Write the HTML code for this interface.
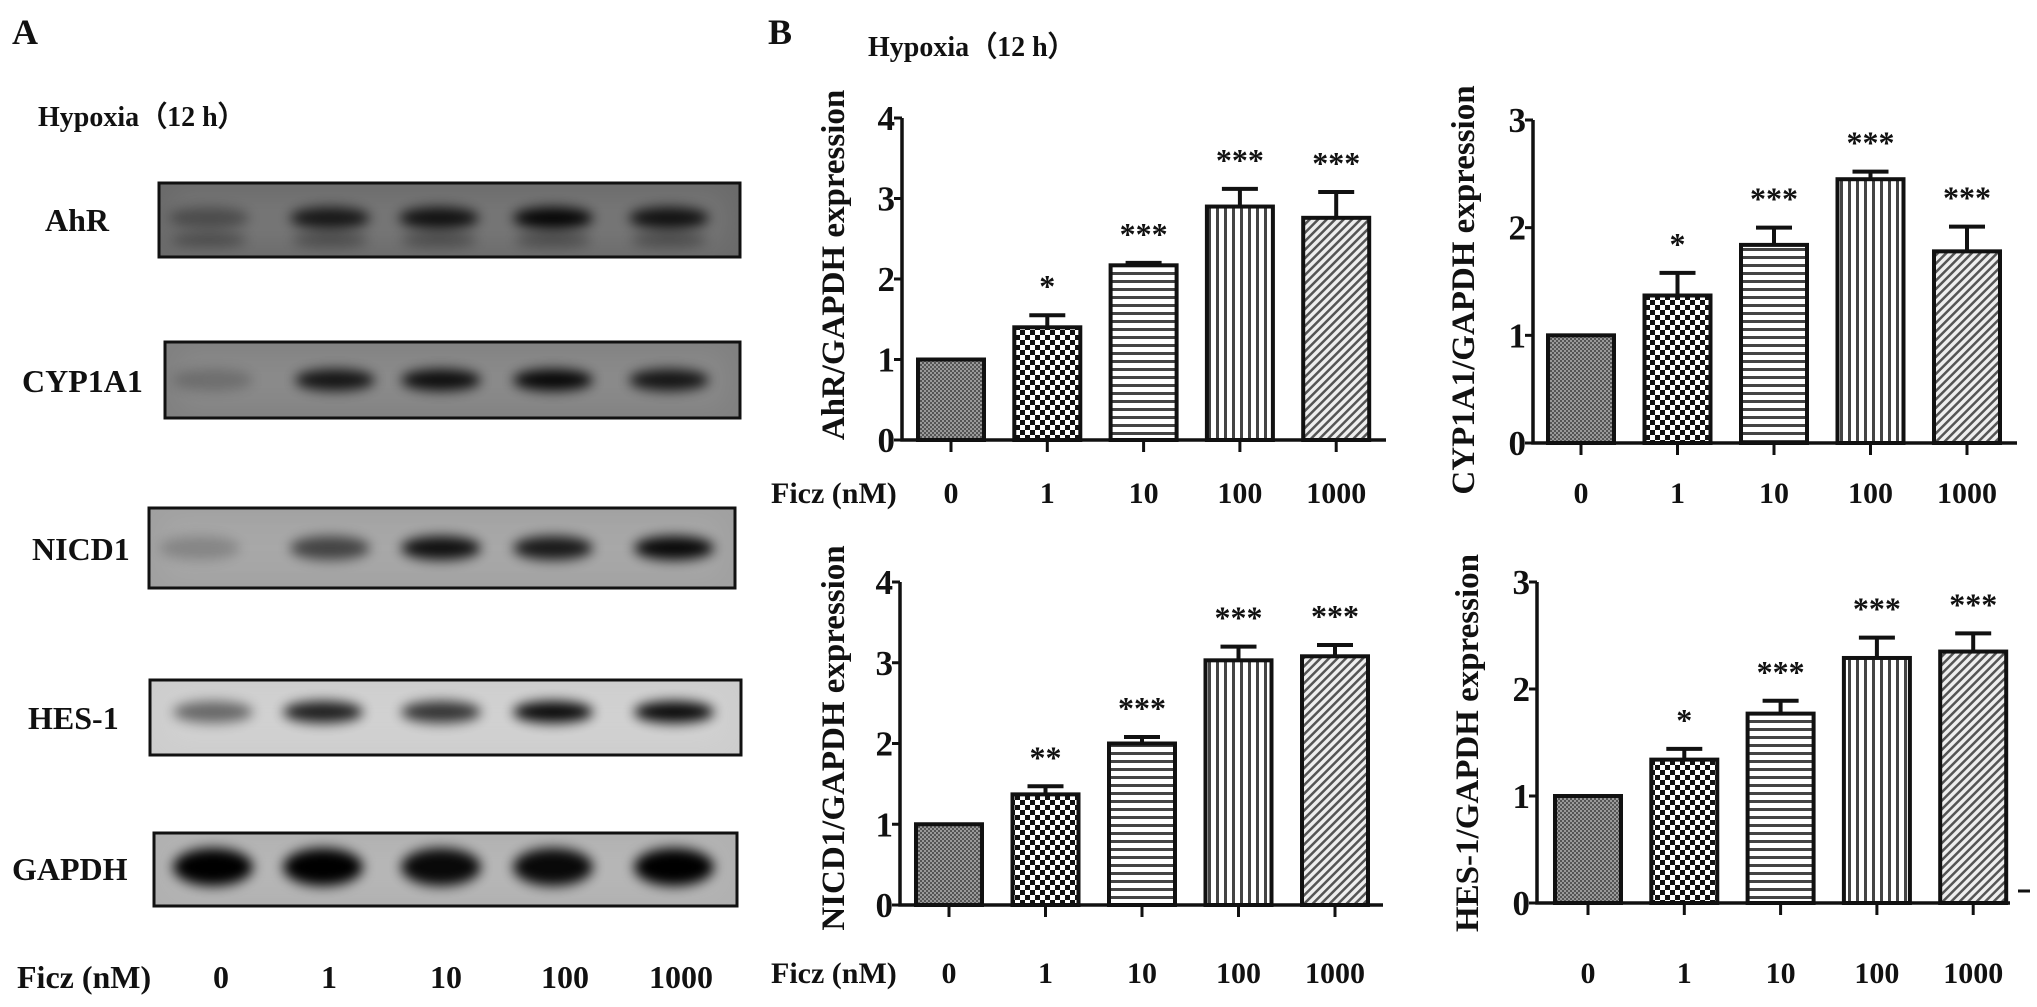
<!DOCTYPE html>
<html><head><meta charset="utf-8"><style>
html,body{margin:0;padding:0;background:#fff;}
svg{display:block;}
text{font-family:"Liberation Serif",serif;font-weight:bold;fill:#111;}
</style></head><body>
<svg id="fig" width="2037" height="1007" viewBox="0 0 2037 1007" xmlns="http://www.w3.org/2000/svg">
<defs>
  <pattern id="p0" width="4" height="4" patternUnits="userSpaceOnUse"><rect width="4" height="4" fill="#9a9a9a"/><rect width="2" height="2" fill="#555"/><rect x="2" y="2" width="2" height="2" fill="#555"/></pattern>
  <pattern id="p1" width="10" height="10" patternUnits="userSpaceOnUse"><rect width="10" height="10" fill="#fff"/><rect width="5" height="5" fill="#111"/><rect x="5" y="5" width="5" height="5" fill="#111"/></pattern>
  <pattern id="p2" width="8" height="8" patternUnits="userSpaceOnUse"><rect width="8" height="8" fill="#fff"/><rect y="0" width="8" height="3" fill="#444"/></pattern>
  <pattern id="p3" width="8" height="8" patternUnits="userSpaceOnUse"><rect width="8" height="8" fill="#fff"/><rect x="0" width="3" height="8" fill="#444"/></pattern>
  <pattern id="p4" width="6" height="6" patternUnits="userSpaceOnUse" patternTransform="rotate(45)"><rect width="6" height="6" fill="#eee"/><rect width="2.5" height="6" fill="#555"/></pattern>
  <filter id="blur" x="-30%" y="-100%" width="160%" height="300%"><feGaussianBlur stdDeviation="6"/></filter>
  <filter id="blur2" x="-30%" y="-30%" width="160%" height="160%"><feGaussianBlur stdDeviation="14"/></filter>
</defs>
<text x="12" y="44" font-size="36">A</text>
<text x="768" y="44" font-size="36">B</text>
<text x="38" y="126" font-size="28">Hypoxia（12 h）</text>
<text x="868" y="56" font-size="28">Hypoxia（12 h）</text>
<g id="blots"></g>
<g id="charts"></g>
</svg>
<script>
// ---- Western blot data ----
const blotProteins = ["AhR", "CYP1A1", "NICD1", "HES-1", "GAPDH"];
const laneLabels = ["0", "1", "10", "100", "1000"];
const bandAhR = [0.35, 0.8, 0.85, 0.95, 0.85];
const bandCYP = [0.2, 0.85, 0.9, 0.95, 0.85];
const bandNICD = [0.2, 0.6, 0.9, 0.85, 0.95];
const bandHES = [0.5, 0.85, 0.75, 0.95, 0.95];
const bandGAPDH = [1, 1, 0.95, 0.95, 1];

// ---- Bar chart data ----
const doseCategories = ["0", "1", "10", "100", "1000"];
const ahrMean = [1, 1.40, 2.17, 2.90, 2.76];
const ahrErr = [0, 0.15, 0.03, 0.22, 0.32];
const ahrSig = ["", "*", "***", "***", "***"];
const cypMean = [1, 1.37, 1.84, 2.45, 1.78];
const cypErr = [0, 0.21, 0.16, 0.07, 0.23];
const cypSig = ["", "*", "***", "***", "***"];
const nicdMean = [1, 1.37, 2.0, 3.03, 3.08];
const nicdErr = [0, 0.10, 0.08, 0.17, 0.14];
const nicdSig = ["", "**", "***", "***", "***"];
const hesMean = [1, 1.34, 1.77, 2.29, 2.35];
const hesErr = [0, 0.10, 0.12, 0.19, 0.17];
const hesSig = ["", "*", "***", "***", "***"];
const ticks4 = ["0", "1", "2", "3", "4"];
const ticks3 = ["0", "1", "2", "3"];

const NS = "http://www.w3.org/2000/svg";
function mk(tag, attrs, parent) {
  const e = document.createElementNS(NS, tag);
  for (const k in attrs) e.setAttribute(k, attrs[k]);
  parent.appendChild(e);
  return e;
}

// ---- blots ----
const blotG = document.getElementById("blots");
const blotRows = [
  {box:[159,183,740,257], bg:"#6a6a6a", bandY:218, th:11, vals:bandAhR, lanes:[209,330,439,553,669], labelX:45, labelY:231, extra:true},
  {box:[165,342,740,418], bg:"#808080", bandY:380, th:11, vals:bandCYP, lanes:[213,335,441,553,669], labelX:22, labelY:392},
  {box:[149,508,735,588], bg:"#a0a0a0", bandY:548, th:12, vals:bandNICD, lanes:[200,330,441,553,674], labelX:32, labelY:560},
  {box:[150,680,741,755], bg:"#cdcdcd", bandY:712, th:11, vals:bandHES, lanes:[213,323,441,553,674], labelX:28, labelY:729},
  {box:[154,833,737,906], bg:"#b0b0b0", bandY:867, th:19, vals:bandGAPDH, lanes:[213,323,441,553,674], labelX:12, labelY:880}
];
blotRows.forEach((r, i) => {
  const g = mk("g", {}, blotG);
  
  
  const lab = mk("text", {x:r.labelX, y:r.labelY, "font-size":32}, g);
  lab.textContent = blotProteins[i];
  
  
  const [x1,y1,x2,y2] = r.box;
  const cid = "clip" + i;
  const cp = mk("clipPath", {id:cid}, g);
  mk("rect", {x:x1, y:y1, width:x2-x1, height:y2-y1}, cp);
  const inner = mk("g", {"clip-path":"url(#"+cid+")"}, g);
  mk("rect", {x:x1, y:y1, width:x2-x1, height:y2-y1, fill:r.bg}, inner);
  mk("rect", {x:x1+15, y:y1+10, width:x2-x1-30, height:y2-y1-20, fill:"#fff", opacity:0.08, filter:"url(#blur2)"}, inner);
  r.vals.forEach((v, j) => {
    const b = mk("ellipse", {cx:r.lanes[j], cy:r.bandY, rx:40, ry:r.th, fill:"#000", opacity:v, filter:"url(#blur)"}, inner);
    
    
    if (r.extra) mk("ellipse", {cx:r.lanes[j], cy:r.bandY+22, rx:38, ry:7, fill:"#000", opacity:0.35, filter:"url(#blur)"}, inner);
  });
  const frame = mk("rect", {x:x1, y:y1, width:x2-x1, height:y2-y1, fill:"none", stroke:"#111", "stroke-width":3}, g);
  
  
});
const ficzA = mk("text", {x:17, y:988, "font-size":32}, blotG);
ficzA.textContent = "Ficz (nM)";


const laneX = [221, 329, 446, 565, 681];
laneLabels.forEach((l, j) => {
  const t = mk("text", {x:laneX[j], y:988, "font-size":32, "text-anchor":"middle"}, blotG);
  t.textContent = l;
  
  
});

// ---- charts ----
const chartsG = document.getElementById("charts");
const patterns = ["url(#p0)", "url(#p1)", "url(#p2)", "url(#p3)", "url(#p4)"];
function drawChart(cfg, means, errs, sigs, tickLabels, name) {
  const g = mk("g", {}, chartsG);
  
  
  const ymax = tickLabels.length - 1;
  const yScale = v => cfg.y0 - (cfg.y0 - cfg.yTop) * v / ymax;
  const xScale = i => cfg.x1 + i * cfg.step;
  const ty = mk("text", {x:0, y:0, "font-size":33, "text-anchor":"middle", transform:"translate("+cfg.titleX+","+cfg.titleY+") rotate(-90)"}, g);
  ty.textContent = cfg.title;
  
  
  means.forEach((m, i) => {
    const cx = xScale(i), w = 66;
    const yt = yScale(m);
    const bar = mk("rect", {x:cx-w/2, y:yt, width:w, height:cfg.y0-yt, fill:patterns[i], stroke:"#111", "stroke-width":4}, g);
    
    
    if (errs[i] > 0) {
      const ye = yScale(m + errs[i]);
      const eb = mk("path", {d:"M"+cx+","+yt+"V"+ye+"M"+(cx-18)+","+ye+"H"+(cx+18), stroke:"#111", "stroke-width":4, fill:"none"}, g);
      
      
      const st = mk("text", {x:cx, y:ye-18, "font-size":32, "text-anchor":"middle", "font-family":"Liberation Sans", fill:"#444"}, g);
      st.textContent = sigs[i];
      
      
    }
    const tk = mk("line", {x1:cx, y1:cfg.y0, x2:cx, y2:cfg.y0+12, stroke:"#111", "stroke-width":3}, g);
    
    
    const xl = mk("text", {x:cx, y:cfg.labelY, "font-size":30, "text-anchor":"middle"}, g);
    xl.textContent = doseCategories[i];
    
    
  });
  const ax = mk("path", {d:"M"+cfg.axisX+","+cfg.yTop+"V"+cfg.y0+"H"+cfg.xEnd, stroke:"#111", "stroke-width":3.5, fill:"none"}, g);
  
  
  tickLabels.forEach((t, k) => {
    const y = yScale(k);
    mk("line", {x1:cfg.axisX-8, y1:y, x2:cfg.axisX, y2:y, stroke:"#111", "stroke-width":3}, g);
    const yl = mk("text", {x:cfg.axisX-7, y:y+12, "font-size":35, "text-anchor":"end"}, g);
    yl.textContent = t;
    
    
  });
  if (cfg.ficz) {
    const f = mk("text", {x:cfg.ficzX, y:cfg.labelY, "font-size":30}, g);
    f.textContent = "Ficz (nM)";
    
    
  }
}
drawChart({axisX:902, y0:440, yTop:118, x1:951, step:96.3, xEnd:1386, labelY:503, title:"AhR/GAPDH expression", titleX:844, titleY:265, ficz:true, ficzX:771}, ahrMean, ahrErr, ahrSig, ticks4, "chart-ahr");
drawChart({axisX:1533, y0:443, yTop:120, x1:1581, step:96.5, xEnd:2017, labelY:503, title:"CYP1A1/GAPDH expression", titleX:1474, titleY:290, ficz:false}, cypMean, cypErr, cypSig, ticks3, "chart-cyp1a1");
drawChart({axisX:900, y0:905, yTop:582, x1:949, step:96.5, xEnd:1383, labelY:983, title:"NICD1/GAPDH expression", titleX:844, titleY:738, ficz:true, ficzX:771}, nicdMean, nicdErr, nicdSig, ticks4, "chart-nicd1");
drawChart({axisX:1537, y0:903, yTop:582, x1:1588, step:96.3, xEnd:2010, labelY:983, title:"HES-1/GAPDH expression", titleX:1478, titleY:743, ficz:false}, hesMean, hesErr, hesSig, ticks3, "chart-hes1");
const dash = mk("line", {x1:2018, y1:891, x2:2030, y2:891, stroke:"#111", "stroke-width":3}, chartsG);


</script>
</body></html>
